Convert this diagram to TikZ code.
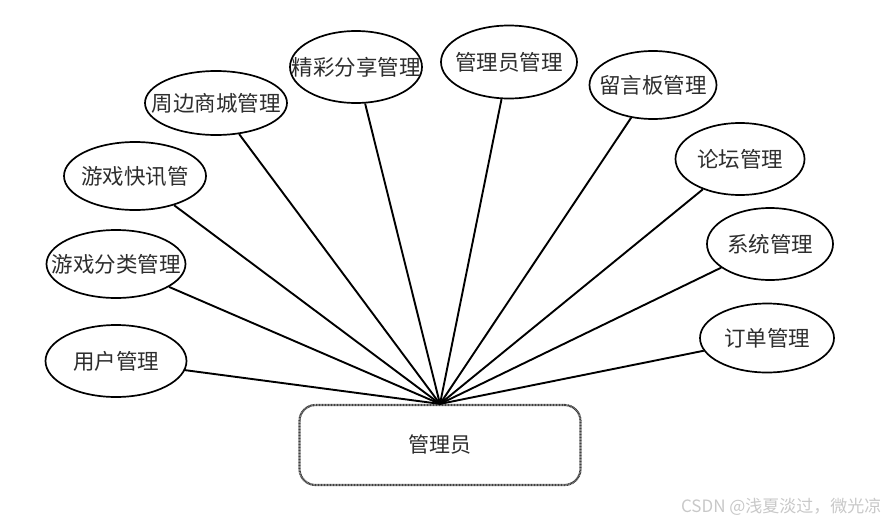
\documentclass[tikz,border=0pt]{standalone}
\usepackage{fontspec}
\usepackage{tikz}
\usetikzlibrary{shapes.geometric}
\newfontfamily\cjk{Noto Sans CJK SC}
\definecolor{inkgray}{RGB}{45,45,45}
\definecolor{markgray}{RGB}{200,200,200}

\begin{document}
\begin{tikzpicture}[x=1pt, y=-1pt,
    ent/.style={ellipse, draw, line width=1.7pt, inner sep=0pt, text=inkgray,
        font=\cjk\fontsize{21.5}{24}\selectfont},
    link/.style={line width=1.9pt}]
    \useasboundingbox (0,0) rectangle (888,522);

    % Administrator box
    \node[draw=black!75, line width=2.2pt, dash pattern=on 1pt off 0.5pt,
        rounded corners=16pt, minimum width=281pt, minimum height=80pt,
        text=inkgray, font=\cjk\fontsize{21}{24}\selectfont] (admin) at (440,445) {管理员};

    % Left side entities
    \node[ent, minimum width=141pt, minimum height=72pt] (user) at (116,361) {\makebox[0pt]{用户管理}};
    \node[ent, minimum width=139pt, minimum height=68pt] (gtype) at (116,264) {\makebox[0pt]{游戏分类管理}};
    \node[ent, minimum width=142pt, minimum height=68pt] (gnews) at (135,176) {\makebox[0pt]{游戏快讯管}};
    \node[ent, minimum width=142pt, minimum height=64pt] (mall) at (216,103) {\makebox[0pt]{周边商城管理}};

    % Top entities
    \node[ent, minimum width=132pt, minimum height=72pt] (share) at (356,67) {\makebox[0pt]{精彩分享管理}};
    \node[ent, minimum width=136pt, minimum height=73pt] (adm) at (509,62) {\makebox[0pt]{管理员管理}};

    % Right side entities
    \node[ent, minimum width=127pt, minimum height=68pt] (board) at (653,85) {\makebox[0pt]{留言板管理}};
    \node[ent, minimum width=129pt, minimum height=72pt] (forum) at (740,159) {\makebox[0pt]{论坛管理}};
    \node[ent, minimum width=126pt, minimum height=72pt] (sys) at (770,244) {\makebox[0pt]{系统管理}};
    \node[ent, minimum width=134pt, minimum height=69pt] (order) at (767,338) {\makebox[0pt]{订单管理}};

    % Connectors
    \foreach \n in {user,gtype,gnews,mall,share,adm,board,forum,sys,order}
        \draw[link] (\n) -- (admin.north);

    % Watermark
    \node[anchor=east, text=markgray, font=\cjk\fontsize{17}{19}\selectfont] (mark) at (885,507) {CSDN @浅夏淡过，微光凉};
\end{tikzpicture}
\end{document}
